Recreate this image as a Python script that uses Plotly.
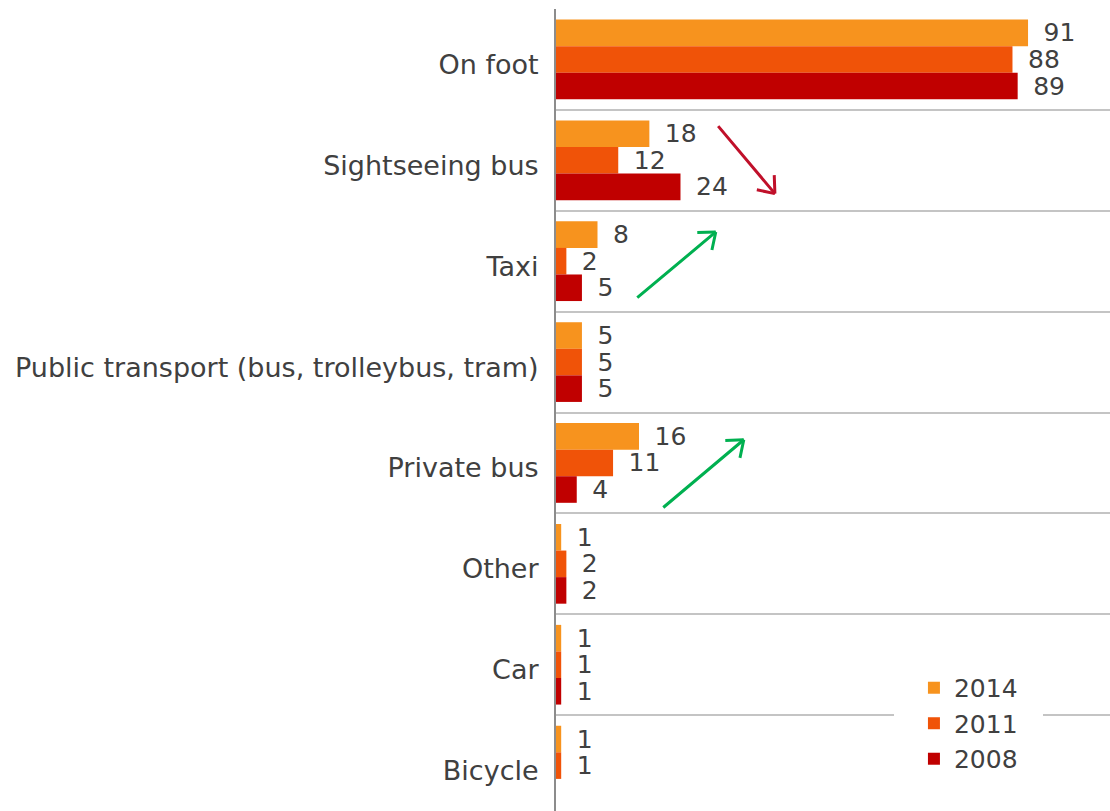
import plotly.graph_objects as go
import math

categories = ["On foot", "Sightseeing bus", "Taxi",
              "Public transport (bus, trolleybus, tram)", "Private bus",
              "Other", "Car", "Bicycle"]
years = ["2014", "2011", "2008"]
values_2014 = [91, 18, 8, 5, 16, 1, 1, 1]
values_2011 = [88, 12, 2, 5, 11, 2, 1, 1]
values_2008 = [89, 24, 5, 5, 4, 2, 1, None]
series = [values_2014, values_2011, values_2008]
colors = ["#F7931E", "#F05308", "#C00000"]

# trend arrows: head position (x value, category index) and tail offset in px
arrow_heads = [(42.2, 1.33), (30.8, 1.71), (36.2, 3.77)]
arrow_tails = [(-58, -69), (-80, 67), (-82, 69)]
arrow_colors = ["#C0102A", "#00B050", "#00B050"]

FONT = "DejaVu Sans"
TXT = "#404040"

fig = go.Figure()
ypos = list(range(len(categories)))
for name, vals, col in zip(years, series, colors):
    fig.add_trace(go.Bar(
        name=name, y=ypos, x=vals, orientation="h",
        marker=dict(color=col, line=dict(width=0)),
        text=[("\u2002" + str(v)) if v is not None else "" for v in vals],
        textposition="outside", cliponaxis=False, constraintext="none",
        textfont=dict(family=FONT, size=25, color=TXT),
        hoverinfo="skip",
    ))

annotations = []
for (hx, hy), (tx, ty), col in zip(arrow_heads, arrow_tails, arrow_colors):
    annotations.append(dict(x=hx, y=hy, xref="x", yref="y", ax=tx, ay=ty,
                            showarrow=True, arrowhead=0, arrowwidth=3,
                            arrowcolor=col, text=""))
    L = math.hypot(tx, ty)
    ux, uy = tx / L, ty / L
    for sgn in (1, -1):
        a = math.radians(38) * sgn
        hxp = (ux * math.cos(a) - uy * math.sin(a)) * 20
        hyp = (ux * math.sin(a) + uy * math.cos(a)) * 20
        annotations.append(dict(x=hx, y=hy, xref="x", yref="y", ax=hxp, ay=hyp,
                                showarrow=True, arrowhead=0, arrowwidth=3,
                                arrowcolor=col, text=""))

fig.update_layout(
    width=1110, height=811,
    margin=dict(l=556, r=0, t=9, b=0, autoexpand=False),
    paper_bgcolor="white", plot_bgcolor="white",
    barmode="group", bargap=0.21, bargroupgap=0,
    font=dict(family=FONT, size=25, color=TXT),
    showlegend=True,
    legend=dict(x=0.610, y=0.207, xanchor="left", yanchor="top",
                bgcolor="white", bordercolor="white", borderwidth=20,
                font=dict(family=FONT, size=25, color=TXT),
                itemwidth=30, tracegroupgap=0),
    annotations=annotations,
)
fig.update_xaxes(range=[0, 106.8], showgrid=False, zeroline=False,
                 showticklabels=False, showline=False, fixedrange=True)
fig.update_yaxes(range=[7.45, -0.5], tickvals=ypos, ticktext=categories,
                 showgrid=False, zeroline=False, ticks="",
                 ticklabelstandoff=10, ticklabelshift=-5,
                 showline=True, linecolor="#8C8C8C", linewidth=2,
                 tickfont=dict(family=FONT, size=27, color=TXT),
                 minor=dict(tickvals=[i - 0.5 for i in range(len(categories))],
                            showgrid=True, gridcolor="#C4C4C4", gridwidth=2,
                            ticks=""),
                 fixedrange=True)

fig.write_html("out.html")
